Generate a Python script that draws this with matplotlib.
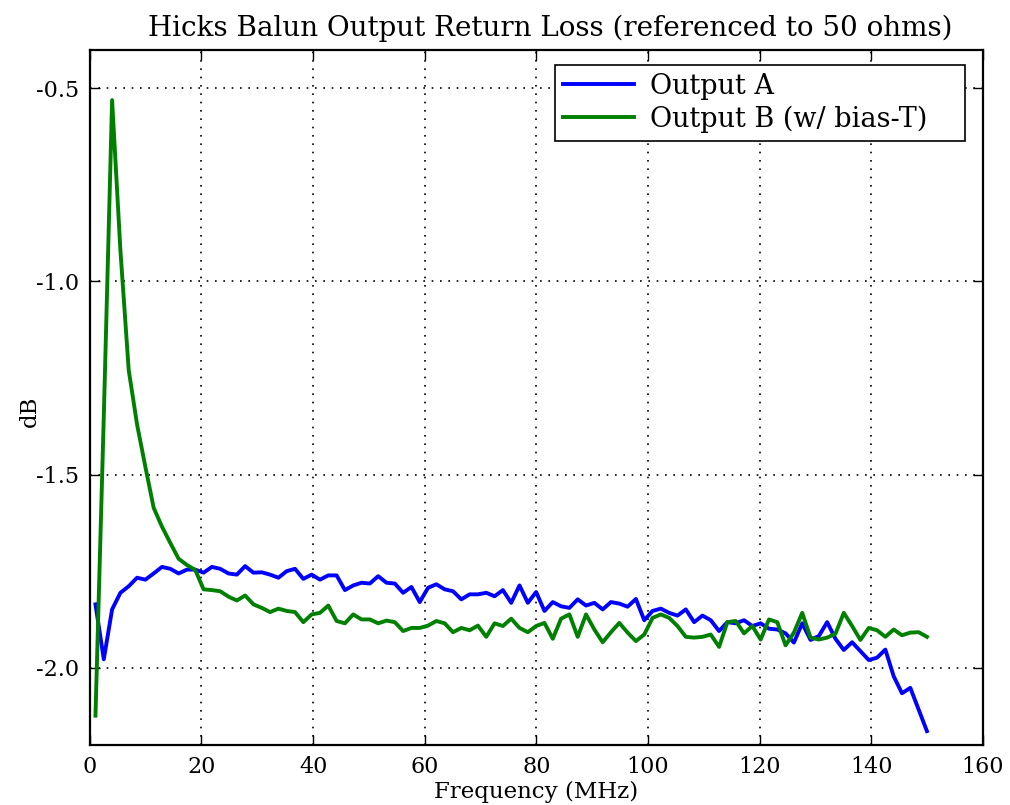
'''
Hicks Balun output return loss plot
'''

import numpy as np
import matplotlib
matplotlib.use('Agg')
import matplotlib.pyplot as plt

# Data
freq_start = 1.0
freq_stop = 150.0
n_points = 101

output_a = [
    -1.836, -1.978, -1.849, -1.806, -1.789, -1.767, -1.772, -1.756, -1.739, -1.744,
    -1.756, -1.746, -1.746, -1.754, -1.739, -1.744, -1.756, -1.759, -1.737, -1.754,
    -1.753, -1.759, -1.767, -1.750, -1.744, -1.770, -1.759, -1.772, -1.761, -1.761,
    -1.799, -1.787, -1.780, -1.782, -1.763, -1.780, -1.782, -1.806, -1.791, -1.830,
    -1.793, -1.784, -1.797, -1.802, -1.823, -1.810, -1.810, -1.806, -1.815, -1.799,
    -1.832, -1.787, -1.832, -1.804, -1.853, -1.830, -1.841, -1.845, -1.823, -1.839,
    -1.832, -1.849, -1.830, -1.834, -1.842, -1.822, -1.877, -1.853, -1.847, -1.858,
    -1.865, -1.849, -1.882, -1.865, -1.877, -1.905, -1.882, -1.885, -1.877, -1.892,
    -1.885, -1.899, -1.901, -1.911, -1.935, -1.885, -1.928, -1.918, -1.882, -1.925,
    -1.954, -1.934, -1.957, -1.980, -1.974, -1.953, -2.022, -2.066, -2.052, -2.108,
    -2.164,
]

output_b = [
    -2.124, -1.350, -0.531, -0.920, -1.230, -1.370, -1.480, -1.586, -1.635, -1.677,
    -1.718, -1.734, -1.747, -1.797, -1.799, -1.802, -1.816, -1.826, -1.813, -1.836,
    -1.845, -1.856, -1.847, -1.853, -1.856, -1.882, -1.862, -1.858, -1.839, -1.879,
    -1.885, -1.862, -1.875, -1.875, -1.885, -1.878, -1.882, -1.905, -1.897, -1.897,
    -1.891, -1.879, -1.885, -1.908, -1.897, -1.903, -1.891, -1.920, -1.885, -1.892,
    -1.873, -1.897, -1.908, -1.892, -1.884, -1.925, -1.873, -1.862, -1.920, -1.862,
    -1.901, -1.934, -1.908, -1.884, -1.909, -1.931, -1.914, -1.871, -1.862, -1.871,
    -1.892, -1.920, -1.922, -1.920, -1.914, -1.946, -1.882, -1.879, -1.911, -1.892,
    -1.927, -1.875, -1.882, -1.942, -1.909, -1.858, -1.922, -1.927, -1.922, -1.912,
    -1.858, -1.892, -1.928, -1.897, -1.903, -1.920, -1.901, -1.916, -1.909, -1.908,
    -1.920,
]

series_labels = ['Output A', 'Output B (w/ bias-T)']
x_ticks = [0, 20, 40, 60, 80, 100, 120, 140, 160]
y_ticks = [-2.0, -1.5, -1.0, -0.5]

# Style
plt.rcParams['font.family'] = ['DejaVu Serif']
plt.rcParams['axes.unicode_minus'] = False
plt.rcParams['xtick.direction'] = 'in'
plt.rcParams['ytick.direction'] = 'in'

freq = np.linspace(freq_start, freq_stop, n_points)

fig = plt.figure(figsize=(10.1, 8.05), dpi=100)
ax = fig.add_axes([0.089, 0.0745, 0.884, 0.864])

ax.plot(freq, output_a, color='#0000ff', lw=2.8, label=series_labels[0])
ax.plot(freq, output_b, color='#008000', lw=2.8, label=series_labels[1])

ax.set_xlim(0, 160)
ax.set_ylim(-2.2, -0.4)
ax.set_xticks(x_ticks)
ax.set_yticks(y_ticks)
ax.set_yticklabels(['%.1f' % v for v in y_ticks])
ax.tick_params(labelsize=16, top=True, right=True, length=7, width=1, pad=8)
for s in ax.spines.values():
    s.set_linewidth(1.6)

ax.grid(True, color='black', linestyle=(0, (1, 4)), linewidth=1.2)

ax.set_title('Hicks Balun Output Return Loss (referenced to 50 ohms)', fontsize=20, pad=10, x=0.516)
ax.set_xlabel('Frequency (MHz)', fontsize=16.5, labelpad=2)
ax.set_ylabel('dB', fontsize=16.5)
ax.yaxis.set_label_coords(-0.055, 0.48)

# legend box stretched to match the wide frame of the original
leg = ax.legend(loc='upper left', bbox_to_anchor=(0.521, 0.0, 0.459, 0.978), mode='expand',
                fontsize=19.5, fancybox=False, framealpha=1, edgecolor='black',
                borderaxespad=0, handlelength=2.6, handletextpad=0.6,
                borderpad=0.3, labelspacing=0.2)
leg.get_frame().set_linewidth(1.2)

fig.savefig('out.png', dpi=100)
